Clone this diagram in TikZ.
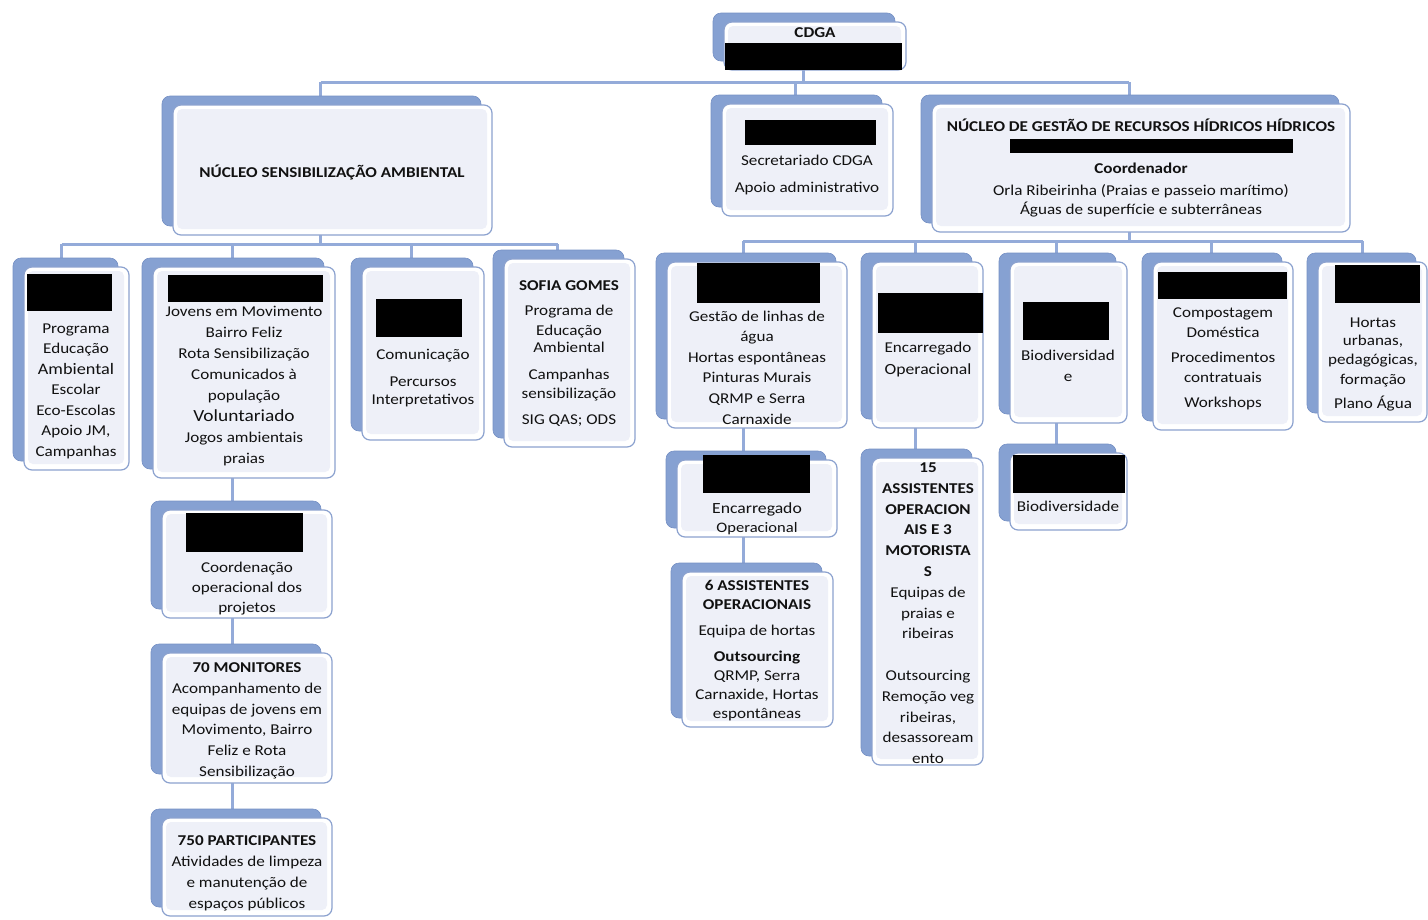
\documentclass[tikz,border=0pt]{standalone}
\usepackage{fontspec}
\setmainfont{Carlito}[FakeStretch=1.14]
\usetikzlibrary{shadows,backgrounds}
\definecolor{backblue}{HTML}{86A1D2}
\definecolor{backedge}{HTML}{7590C4}
\definecolor{frontedge}{HTML}{8CA2CF}
\definecolor{lav}{HTML}{EEF0F8}
\definecolor{connc}{HTML}{94ABD9}
\definecolor{txtc}{HTML}{111111}
\newcommand{\myfs}[2]{\fontsize{#1}{#2}\selectfont}
\tikzset{
  box/.style={anchor=north west, draw=frontedge, line width=1.2pt, fill=white,
    rounded corners=8pt, inner sep=0pt, outer sep=0pt,
    copy shadow={shadow xshift=-11pt, shadow yshift=9pt, fill=backblue, draw=backedge, line width=0.6pt},
    path picture={\fill[lav, rounded corners=5pt]
      ([shift={(4pt,-4pt)}]path picture bounding box.north west) rectangle
      ([shift={(-5pt,6pt)}]path picture bounding box.south east);}},
  redact/.style={anchor=north west, fill=black, inner sep=0pt, outer sep=0pt, draw=none},
  txt/.style={anchor=north, align=center, inner sep=0pt, text=txtc,
    execute at begin node={\rule{0pt}{14pt}}},
  ml/.style={yshift=-4.5pt},
  conn/.style={draw=connc, line width=3pt},
}
\begin{document}
\begin{tikzpicture}[x=1pt,y=-1pt]
\useasboundingbox (0,0) rectangle (1428,919);

% ---- boxes ----
\node[box, minimum width=182pt, minimum height=48pt] (cdga) at (724,22) {};
\node[box, minimum width=319pt, minimum height=130pt] (nsa) at (173,105) {};
\node[box, minimum width=171pt, minimum height=112pt] (sec) at (722,104) {};
\node[box, minimum width=418pt, minimum height=128pt] (ngrh) at (932,104) {};
\node[box, minimum width=105pt, minimum height=203pt] (bA) at (24,267) {};
\node[box, minimum width=182pt, minimum height=211pt] (bB) at (153,267) {};
\node[box, minimum width=122pt, minimum height=173pt] (bC) at (362,267) {};
\node[box, minimum width=131pt, minimum height=188pt] (bD) at (504,259) {};
\node[box, minimum width=170pt, minimum height=108pt] (bE) at (162,510) {};
\node[box, minimum width=170pt, minimum height=130pt] (bF) at (162,653) {};
\node[box, minimum width=170pt, minimum height=98pt] (bG) at (162,818) {};
\node[box, minimum width=180pt, minimum height=166pt] (bH) at (667,262) {};
\node[box, minimum width=111pt, minimum height=166pt] (bI) at (872,262) {};
\node[box, minimum width=117pt, minimum height=161pt] (bJ) at (1010,262) {};
\node[box, minimum width=140pt, minimum height=168pt] (bK) at (1153,262) {};
\node[box, minimum width=109pt, minimum height=160pt] (bL) at (1318,262) {};
\node[box, minimum width=160pt, minimum height=77pt] (bM) at (677,460) {};
\node[box, minimum width=151pt, minimum height=155pt] (bN) at (682,572) {};
\node[box, minimum width=111pt, minimum height=307pt] (bO) at (872,458) {};
\node[box, minimum width=117pt, minimum height=77pt] (bP) at (1010,453) {};

% ---- redacted areas ----
\node[redact, minimum width=177pt, minimum height=27pt] (rcdga) at (725,43) {};
\node[redact, minimum width=131pt, minimum height=25pt] (rsec) at (745,120) {};
\node[redact, minimum width=283pt, minimum height=14pt] (rngrh) at (1010,139) {};
\node[redact, minimum width=85pt, minimum height=37pt] (rA) at (27,274) {};
\node[redact, minimum width=155pt, minimum height=27pt] (rB) at (168,275) {};
\node[redact, minimum width=86pt, minimum height=38pt] (rC) at (376,299) {};
\node[redact, minimum width=117pt, minimum height=39pt] (rE) at (186,513) {};
\node[redact, minimum width=123pt, minimum height=40pt] (rH) at (697,263) {};
\node[redact, minimum width=105pt, minimum height=40pt] (rI) at (878,293) {};
\node[redact, minimum width=86pt, minimum height=38pt] (rJ) at (1023,302) {};
\node[redact, minimum width=129pt, minimum height=27pt] (rK) at (1158,272) {};
\node[redact, minimum width=85pt, minimum height=38pt] (rL) at (1335,265) {};
\node[redact, minimum width=107pt, minimum height=38pt] (rM) at (703,455) {};
\node[redact, minimum width=112pt, minimum height=38pt] (rP) at (1013,455) {};

% ---- texts ----
\node[txt, font=\myfs{15}{20.5}\bfseries] (tcdga) at (815,23) {CDGA};
\node[txt, font=\myfs{15}{20.5}\bfseries] (tnsa) at (332,163) {NÚCLEO SENSIBILIZAÇÃO AMBIENTAL};
\node[txt, ml, font=\myfs{15}{20.5}] (tsec) at (807,150) {Secretariado CDGA\\[6.5pt]Apoio administrativo};
\node[txt, font=\myfs{15}{20.5}\bfseries] (tngrhh) at (1141,117) {NÚCLEO DE GESTÃO DE RECURSOS HÍDRICOS HÍDRICOS};
\node[txt, ml, font=\myfs{15}{20.5}] (tngrh) at (1141,158) {\textbf{Coordenador}\\[1.5pt]Orla Ribeirinha (Praias e passeio marítimo)\\[-1.5pt]Águas de superfície e subterrâneas};
\node[txt, ml, font=\myfs{15}{20.5}] (tA) at (76,319) {Programa\\Educação\\{\myfs{16}{20.5}Ambiental}\\Escolar\\Eco-Escolas\\Apoio JM,\\Campanhas};
\node[txt, ml, font=\myfs{15}{21}] (tB) at (244,301) {Jovens em Movimento\\Bairro Feliz\\Rota Sensibilização\\Comunicados à\\população\\{\myfs{17}{21}Voluntariado}\\Jogos ambientais\\praias};
\node[txt, ml, font=\myfs{15}{20.5}] (tC) at (423,344) {Comunicação\\[6.5pt]Percursos\\[-2.5pt]Interpretativos};
\node[txt, ml, font=\myfs{15}{20}] (tD) at (569,276) {\textbf{SOFIA GOMES}\\[5pt]Programa de\\Educação\\[-3pt]Ambiental\\[7pt]Campanhas\\[-1pt]sensibilização\\[6pt]SIG QAS; ODS};
\node[txt, ml, font=\myfs{15}{20}] (tE) at (247,557) {Coordenação\\operacional dos\\projetos};
\node[txt, ml, font=\myfs{15}{20.8}] (tF) at (247,658) {\textbf{70 MONITORES}\\Acompanhamento de\\equipas de jovens em\\Movimento, Bairro\\Feliz e Rota\\Sensibilização};
\node[txt, ml, font=\myfs{15}{21}] (tG) at (247,831) {\textbf{750 PARTICIPANTES}\\Atividades de limpeza\\e manutenção de\\espaços públicos};
\node[txt, ml, font=\myfs{15}{20.6}] (tH) at (757,306) {Gestão de linhas de\\água\\Hortas espontâneas\\Pinturas Murais\\QRMP e Serra\\Carnaxide};
\node[txt, ml, font=\myfs{15}{22}] (tI) at (928,337) {Encarregado\\{\myfs{15.5}{22}Operacional}};
\node[txt, ml, font=\myfs{15}{21}] (tJ) at (1068,345) {Biodiversidad\\e};
\node[txt, ml, font=\myfs{15}{20}] (tK) at (1223,303) {Compostagem\\Doméstica\\[5pt]Procedimentos\\contratuais\\[5pt]Workshops};
\node[txt, ml, font=\myfs{15}{20}] (tL) at (1373,313) {Hortas\\[-2pt]urbanas,\\[-1pt]pedagógicas,\\formação\\[4pt]Plano Água};
\node[txt, ml, font=\myfs{15.5}{19}] (tM) at (757,498) {Encarregado\\{\myfs{14.5}{19}Operacional}};
\node[txt, ml, font=\myfs{15}{19}] (tN) at (757,576) {\textbf{6 ASSISTENTES}\\\textbf{OPERACIONAIS}\\[7pt]Equipa de hortas\\[7pt]\textbf{Outsourcing}\\QRMP, Serra\\Carnaxide, Hortas\\espontâneas};
\node[txt, ml, font=\myfs{15}{20.8}] (tO) at (928,458) {\textbf{15}\\\textbf{ASSISTENTES}\\\textbf{OPERACION}\\\textbf{AIS E 3}\\\textbf{MOTORISTA}\\\textbf{S}\\Equipas de\\praias e\\ribeiras\\[20.8pt]Outsourcing\\Remoção veg\\ribeiras,\\desassoream\\ento};
\node[txt, font=\myfs{15}{20}] (tP) at (1068,497) {Biodiversidade};

% ---- connectors ----
\coordinate (bus0) at (0,82);
\coordinate (bus1) at (0,244);
\coordinate (bus2) at (0,241);
\begin{pgfonlayer}{background}
  \draw[conn] ([xshift=-12pt]cdga.south) -- ([xshift=-12pt]cdga.south |- bus0);
  \draw[conn] ([xshift=-12pt]nsa.north |- bus0) -- ([xshift=-12pt]ngrh.north |- bus0);
  \foreach \n in {nsa,sec,ngrh}
    \draw[conn] ([xshift=-12pt]\n.north |- bus0) -- ([xshift=-12pt]\n.north);
  \draw[conn] ([xshift=-12pt]nsa.south) -- ([xshift=-12pt]nsa.south |- bus1);
  \draw[conn] ([xshift=-15pt]bA.north |- bus1) -- ([xshift=-12pt]bD.north |- bus1);
  \draw[conn] ([xshift=-15pt]bA.north |- bus1) -- ([xshift=-15pt]bA.north);
  \foreach \n in {bB,bC,bD}
    \draw[conn] ([xshift=-12pt]\n.north |- bus1) -- ([xshift=-12pt]\n.north);
  \draw[conn] ([xshift=-12pt]ngrh.south) -- ([xshift=-12pt]ngrh.south |- bus2);
  \draw[conn] ([xshift=-14pt]bH.north |- bus2) -- ([xshift=-10pt]bL.north |- bus2);
  \draw[conn] ([xshift=-14pt]bH.north |- bus2) -- ([xshift=-14pt]bH.north);
  \draw[conn] ([xshift=-10pt]bL.north |- bus2) -- ([xshift=-10pt]bL.north);
  \foreach \n in {bI,bJ,bK}
    \draw[conn] ([xshift=-12pt]\n.north |- bus2) -- ([xshift=-12pt]\n.north);
  \draw[conn] ([xshift=-12pt]bB.south) -- ([xshift=-12pt]bB.south |- bE.north);
  \draw[conn] ([xshift=-15pt]bE.south) -- ([xshift=-15pt]bE.south |- bF.north);
  \draw[conn] ([xshift=-15pt]bF.south) -- ([xshift=-15pt]bF.south |- bG.north);
  \draw[conn] ([xshift=-14pt]bH.south) -- ([xshift=-14pt]bH.south |- bM.north);
  \draw[conn] ([xshift=-14pt]bM.south) -- ([xshift=-14pt]bM.south |- bN.north);
  \draw[conn] ([xshift=-12pt]bI.south) -- ([xshift=-12pt]bI.south |- bO.north);
  \draw[conn] ([xshift=-12pt]bJ.south) -- ([xshift=-12pt]bJ.south |- bP.north);
\end{pgfonlayer}
\end{tikzpicture}
\end{document}
